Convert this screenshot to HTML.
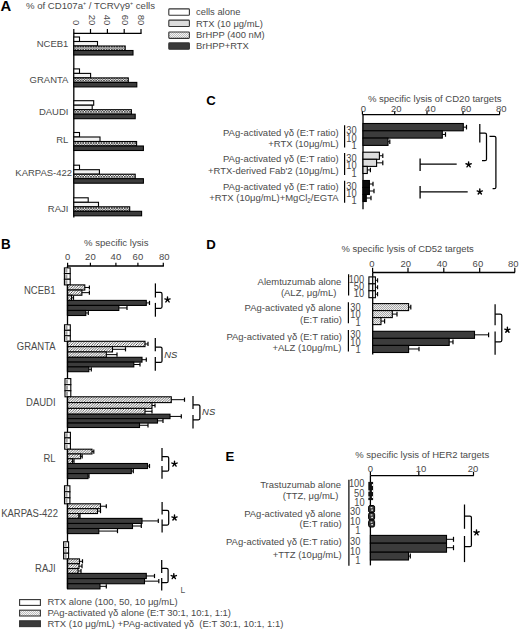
<!DOCTYPE html>
<html><head><meta charset="utf-8"><title>Figure</title>
<style>
html,body{margin:0;padding:0;background:#fff;}
body{width:520px;height:632px;overflow:hidden;}
svg{display:block;font-family:"Liberation Sans", sans-serif;}
</style></head><body>
<svg width="520" height="632" viewBox="0 0 520 632">
<defs>
<pattern id="xh" width="2.6" height="2.6" patternUnits="userSpaceOnUse">
<rect width="2.6" height="2.6" fill="#fafafa"/>
<path d="M0 0L2.6 2.6M2.6 0L0 2.6" stroke="#333" stroke-width="0.75"/>
</pattern>
<pattern id="dg" width="2.6" height="2.6" patternUnits="userSpaceOnUse">
<rect width="2.6" height="2.6" fill="#ffffff"/>
<path d="M-0.65 0.65L0.65 -0.65M0 2.6L2.6 0M1.95 3.25L3.25 1.95" stroke="#3a3a3a" stroke-width="0.8"/>
</pattern>
<pattern id="lx2" width="2" height="2" patternUnits="userSpaceOnUse">
<rect width="2" height="2" fill="#f4f4f4"/>
<rect width="1" height="1" fill="#bdbdbd"/>
<rect x="1" y="1" width="1" height="1" fill="#bdbdbd"/>
</pattern>
<pattern id="lx" width="2" height="2" patternUnits="userSpaceOnUse">
<rect width="2" height="2" fill="#eeeeee"/>
<rect width="1" height="1" fill="#a8a8a8"/>
<rect x="1" y="1" width="1" height="1" fill="#a8a8a8"/>
</pattern>
</defs>
<rect width="520" height="632" fill="#fff"/>

<text x="0.4" y="10.8" font-size="14.8" text-anchor="start" font-weight="bold" font-style="normal" fill="#000">A</text>
<text transform="translate(26.0 8.6) scale(0.965 1)" font-size="9.95" fill="#4a4a4a">% of CD107a<tspan font-size="5.5" dy="-3.4">+</tspan><tspan dy="3.4"> / TCRV&#947;9</tspan><tspan font-size="5.5" dy="-3.4">+</tspan><tspan dy="3.4"> cells</tspan></text>
<line x1="73.8" y1="33.3" x2="141.6" y2="33.3" stroke="#000" stroke-width="1.3"/>
<line x1="73.8" y1="32.7" x2="73.8" y2="217.6" stroke="#000" stroke-width="1.3"/>
<line x1="73.8" y1="29" x2="73.8" y2="33.3" stroke="#000" stroke-width="1.2"/>
<text transform="translate(73.2 25.4) rotate(90)" font-size="9.5" text-anchor="end" fill="#4a4a4a">0</text>
<line x1="90.5" y1="29" x2="90.5" y2="33.3" stroke="#000" stroke-width="1.2"/>
<text transform="translate(88.8 25.4) rotate(90)" font-size="9.5" text-anchor="end" fill="#4a4a4a">20</text>
<line x1="107.4" y1="29" x2="107.4" y2="33.3" stroke="#000" stroke-width="1.2"/>
<text transform="translate(104.4 25.4) rotate(90)" font-size="9.5" text-anchor="end" fill="#4a4a4a">40</text>
<line x1="124.2" y1="29" x2="124.2" y2="33.3" stroke="#000" stroke-width="1.2"/>
<text transform="translate(122.2 25.4) rotate(90)" font-size="9.5" text-anchor="end" fill="#4a4a4a">60</text>
<line x1="141" y1="29" x2="141" y2="33.3" stroke="#000" stroke-width="1.2"/>
<text transform="translate(137.6 25.4) rotate(90)" font-size="9.5" text-anchor="end" fill="#4a4a4a">80</text>
<rect x="73.8" y="37" width="5.7" height="4.5" fill="#ffffff" stroke="#000" stroke-width="1.1"/>
<rect x="73.8" y="41.5" width="23.7" height="4.5" fill="#f2f2f2" stroke="#000" stroke-width="1.1"/>
<rect x="73.8" y="46" width="51.4" height="4.5" fill="url(#xh)" stroke="#000" stroke-width="1.1"/>
<rect x="73.8" y="50.5" width="59.2" height="4.5" fill="#3c3c3c" stroke="#000" stroke-width="1.1"/>
<text transform="translate(68.4 46.9) scale(0.9709 1)" font-size="9.79" text-anchor="end" font-style="normal" fill="#4a4a4a">NCEB1</text>
<rect x="73.8" y="68.9" width="5.7" height="4.5" fill="#ffffff" stroke="#000" stroke-width="1.1"/>
<rect x="73.8" y="73.4" width="16.8" height="4.5" fill="#f2f2f2" stroke="#000" stroke-width="1.1"/>
<rect x="73.8" y="77.9" width="54.5" height="4.5" fill="url(#xh)" stroke="#000" stroke-width="1.1"/>
<rect x="73.8" y="82.4" width="63" height="4.5" fill="#3c3c3c" stroke="#000" stroke-width="1.1"/>
<text transform="translate(68.4 82.8) scale(0.9709 1)" font-size="9.79" text-anchor="end" font-style="normal" fill="#4a4a4a">GRANTA</text>
<rect x="73.8" y="100.7" width="19.9" height="4.5" fill="#ffffff" stroke="#000" stroke-width="1.1"/>
<rect x="73.8" y="105.2" width="18.4" height="4.5" fill="#f2f2f2" stroke="#000" stroke-width="1.1"/>
<rect x="73.8" y="109.7" width="57.6" height="4.5" fill="url(#xh)" stroke="#000" stroke-width="1.1"/>
<rect x="73.8" y="114.2" width="61.4" height="4.5" fill="#3c3c3c" stroke="#000" stroke-width="1.1"/>
<text transform="translate(68.4 115.2) scale(0.9709 1)" font-size="9.79" text-anchor="end" font-style="normal" fill="#4a4a4a">DAUDI</text>
<rect x="73.8" y="132.5" width="5.7" height="4.5" fill="#ffffff" stroke="#000" stroke-width="1.1"/>
<rect x="73.8" y="137" width="26.2" height="4.5" fill="#f2f2f2" stroke="#000" stroke-width="1.1"/>
<rect x="73.8" y="141.5" width="62.8" height="4.5" fill="url(#xh)" stroke="#000" stroke-width="1.1"/>
<rect x="73.8" y="146" width="69.6" height="4.5" fill="#3c3c3c" stroke="#000" stroke-width="1.1"/>
<text transform="translate(68.4 142.7) scale(0.9709 1)" font-size="9.79" text-anchor="end" font-style="normal" fill="#4a4a4a">RL</text>
<rect x="73.8" y="165.2" width="5.7" height="4.5" fill="#ffffff" stroke="#000" stroke-width="1.1"/>
<rect x="73.8" y="169.7" width="25.6" height="4.5" fill="#f2f2f2" stroke="#000" stroke-width="1.1"/>
<rect x="73.8" y="174.2" width="61.4" height="4.5" fill="url(#xh)" stroke="#000" stroke-width="1.1"/>
<rect x="73.8" y="178.7" width="69.6" height="4.5" fill="#3c3c3c" stroke="#000" stroke-width="1.1"/>
<text transform="translate(72.1 176.3) scale(0.9709 1)" font-size="9.79" text-anchor="end" font-style="normal" fill="#4a4a4a">KARPAS-422</text>
<rect x="73.8" y="197.8" width="14.4" height="4.5" fill="#ffffff" stroke="#000" stroke-width="1.1"/>
<rect x="73.8" y="202.3" width="24.7" height="4.5" fill="#f2f2f2" stroke="#000" stroke-width="1.1"/>
<rect x="73.8" y="206.8" width="55.9" height="4.5" fill="url(#xh)" stroke="#000" stroke-width="1.1"/>
<rect x="73.8" y="211.3" width="67.8" height="4.5" fill="#3c3c3c" stroke="#000" stroke-width="1.1"/>
<text transform="translate(68.4 212.4) scale(0.9709 1)" font-size="9.79" text-anchor="end" font-style="normal" fill="#4a4a4a">RAJI</text>
<rect x="168.8" y="8.9" width="20.6" height="6.4" rx="0.8" fill="#ffffff" stroke="#333" stroke-width="1.1"/>
<text transform="translate(196 15.1) scale(0.9709 1)" font-size="9.68" text-anchor="start" font-style="normal" fill="#4a4a4a">cells alone</text>
<rect x="168.8" y="20.1" width="20.6" height="6.4" rx="0.8" fill="#dcdcdc" stroke="#333" stroke-width="1.1"/>
<text transform="translate(196 26.5) scale(0.9709 1)" font-size="9.68" text-anchor="start" font-style="normal" fill="#4a4a4a">RTX (10 &#956;g/mL)</text>
<rect x="168.8" y="32" width="20.6" height="6.4" rx="0.8" fill="url(#lx2)" stroke="#333" stroke-width="1.1"/>
<text transform="translate(196 37.9) scale(0.9709 1)" font-size="9.68" text-anchor="start" font-style="normal" fill="#4a4a4a">BrHPP (400 nM)</text>
<rect x="168.8" y="42.9" width="20.6" height="6.4" rx="0.8" fill="#3a3a3a" stroke="#333" stroke-width="1.1"/>
<text transform="translate(196 49.3) scale(0.9709 1)" font-size="9.68" text-anchor="start" font-style="normal" fill="#4a4a4a">BrHPP+RTX</text>
<text transform="translate(1.0 249.0) scale(0.93 1)" font-size="14.4" font-weight="bold" fill="#000">B</text>
<text transform="translate(84 246.2) scale(0.9709 1)" font-size="9.89" text-anchor="start" font-style="normal" fill="#4a4a4a">% specific lysis</text>
<line x1="67.5" y1="266" x2="163.9" y2="266" stroke="#000" stroke-width="1.3"/>
<line x1="67.6" y1="262.8" x2="67.6" y2="266" stroke="#000" stroke-width="1.2"/>
<text transform="translate(67.6 260.4) scale(0.9709 1)" font-size="9.79" text-anchor="middle" font-style="normal" fill="#4a4a4a">0</text>
<line x1="90.4" y1="262.8" x2="90.4" y2="266" stroke="#000" stroke-width="1.2"/>
<text transform="translate(90.4 260.4) scale(0.9709 1)" font-size="9.79" text-anchor="middle" font-style="normal" fill="#4a4a4a">20</text>
<line x1="115.9" y1="262.8" x2="115.9" y2="266" stroke="#000" stroke-width="1.2"/>
<text transform="translate(115.9 260.4) scale(0.9709 1)" font-size="9.79" text-anchor="middle" font-style="normal" fill="#4a4a4a">40</text>
<line x1="137.9" y1="262.8" x2="137.9" y2="266" stroke="#000" stroke-width="1.2"/>
<text transform="translate(137.9 260.4) scale(0.9709 1)" font-size="9.79" text-anchor="middle" font-style="normal" fill="#4a4a4a">60</text>
<line x1="163.3" y1="262.8" x2="163.3" y2="266" stroke="#000" stroke-width="1.2"/>
<text transform="translate(164.2 260.4) scale(0.9709 1)" font-size="9.79" text-anchor="middle" font-style="normal" fill="#4a4a4a">80</text>
<line x1="67.5" y1="266" x2="67.5" y2="588.6" stroke="#000" stroke-width="1.3"/>
<rect x="64.4" y="267.9" width="5.8" height="5.67" fill="#fff" stroke="#000" stroke-width="1.1"/>
<rect x="65.2" y="268.9" width="2.2" height="3.67" fill="#a0a0a0"/>
<rect x="64.4" y="273.57" width="5.8" height="5.67" fill="#fff" stroke="#000" stroke-width="1.1"/>
<rect x="65.2" y="274.57" width="2.2" height="3.67" fill="#a0a0a0"/>
<rect x="64.4" y="279.23" width="5.8" height="5.67" fill="#fff" stroke="#000" stroke-width="1.1"/>
<rect x="65.2" y="280.23" width="2.2" height="3.67" fill="#a0a0a0"/>
<rect x="67.5" y="284.9" width="17.3" height="5.17" fill="url(#dg)" stroke="#000" stroke-width="1.1"/>
<line x1="84.8" y1="287.48" x2="89.4" y2="287.48" stroke="#000" stroke-width="1"/>
<line x1="89.4" y1="285.38" x2="89.4" y2="289.58" stroke="#000" stroke-width="1.2"/>
<rect x="67.5" y="290.07" width="14.4" height="5.17" fill="url(#dg)" stroke="#000" stroke-width="1.1"/>
<line x1="81.9" y1="292.65" x2="89.4" y2="292.65" stroke="#000" stroke-width="1"/>
<line x1="89.4" y1="290.55" x2="89.4" y2="294.75" stroke="#000" stroke-width="1.2"/>
<rect x="67.5" y="295.23" width="4" height="5.17" fill="url(#dg)" stroke="#000" stroke-width="1.1"/>
<line x1="71.5" y1="297.82" x2="73.5" y2="297.82" stroke="#000" stroke-width="1"/>
<line x1="73.5" y1="295.72" x2="73.5" y2="299.92" stroke="#000" stroke-width="1.2"/>
<rect x="67.5" y="300.4" width="78.8" height="5.03" fill="#3c3c3c" stroke="#000" stroke-width="1.1"/>
<line x1="146.3" y1="302.92" x2="149.5" y2="302.92" stroke="#000" stroke-width="1"/>
<line x1="149.5" y1="300.82" x2="149.5" y2="305.02" stroke="#000" stroke-width="1.2"/>
<rect x="67.5" y="305.43" width="51.3" height="5.03" fill="#3c3c3c" stroke="#000" stroke-width="1.1"/>
<line x1="118.8" y1="307.95" x2="127" y2="307.95" stroke="#000" stroke-width="1"/>
<line x1="127" y1="305.85" x2="127" y2="310.05" stroke="#000" stroke-width="1.2"/>
<rect x="67.5" y="310.47" width="18.3" height="5.03" fill="#3c3c3c" stroke="#000" stroke-width="1.1"/>
<line x1="85.8" y1="312.98" x2="88.3" y2="312.98" stroke="#000" stroke-width="1"/>
<line x1="88.3" y1="310.88" x2="88.3" y2="315.08" stroke="#000" stroke-width="1.2"/>
<line x1="67.5" y1="284.9" x2="67.5" y2="315.5" stroke="#000" stroke-width="1.3"/>
<text transform="translate(55.6 294) scale(0.9091 1)" font-size="10.45" text-anchor="end" font-style="normal" fill="#4a4a4a">NCEB1</text>
<line x1="155.4" y1="283.4" x2="155.4" y2="297.5" stroke="#000" stroke-width="1.25"/>
<line x1="155.4" y1="302.9" x2="155.4" y2="316.7" stroke="#000" stroke-width="1.25"/>
<path d="M155.4 292.4 H160.5 Q162 292.4 162 293.9 V306.8 Q162 308.3 160.5 308.3 H155.4" fill="none" stroke="#000" stroke-width="1.25"/>
<path d="M167.5 299.7L167.5 296.95M167.5 299.7L170.12 298.85M167.5 299.7L169.12 301.92M167.5 299.7L165.88 301.92M167.5 299.7L164.88 298.85" stroke="#000" stroke-width="1.4" stroke-linecap="round" fill="none"/>
<rect x="64.5" y="324.8" width="5.8" height="5.5" fill="#fff" stroke="#000" stroke-width="1.1"/>
<rect x="65.3" y="325.8" width="2.2" height="3.5" fill="#a0a0a0"/>
<rect x="64.5" y="330.3" width="5.8" height="5.5" fill="#fff" stroke="#000" stroke-width="1.1"/>
<rect x="65.3" y="331.3" width="2.2" height="3.5" fill="#a0a0a0"/>
<rect x="64.5" y="335.8" width="5.8" height="5.5" fill="#fff" stroke="#000" stroke-width="1.1"/>
<rect x="65.3" y="336.8" width="2.2" height="3.5" fill="#a0a0a0"/>
<rect x="67.5" y="341.3" width="77.5" height="5.33" fill="url(#dg)" stroke="#000" stroke-width="1.1"/>
<line x1="145" y1="343.97" x2="148" y2="343.97" stroke="#000" stroke-width="1"/>
<line x1="148" y1="341.87" x2="148" y2="346.07" stroke="#000" stroke-width="1.2"/>
<rect x="67.5" y="346.63" width="45" height="5.33" fill="url(#dg)" stroke="#000" stroke-width="1.1"/>
<line x1="112.5" y1="349.3" x2="125.5" y2="349.3" stroke="#000" stroke-width="1"/>
<line x1="125.5" y1="347.2" x2="125.5" y2="351.4" stroke="#000" stroke-width="1.2"/>
<rect x="67.5" y="351.97" width="38.8" height="5.33" fill="url(#dg)" stroke="#000" stroke-width="1.1"/>
<line x1="106.3" y1="354.63" x2="117" y2="354.63" stroke="#000" stroke-width="1"/>
<line x1="117" y1="352.53" x2="117" y2="356.73" stroke="#000" stroke-width="1.2"/>
<rect x="67.5" y="357.3" width="74.5" height="4.8" fill="#3c3c3c" stroke="#000" stroke-width="1.1"/>
<line x1="142" y1="359.7" x2="146.3" y2="359.7" stroke="#000" stroke-width="1"/>
<line x1="146.3" y1="357.6" x2="146.3" y2="361.8" stroke="#000" stroke-width="1.2"/>
<rect x="67.5" y="362.1" width="66.3" height="4.8" fill="#3c3c3c" stroke="#000" stroke-width="1.1"/>
<line x1="133.8" y1="364.5" x2="140" y2="364.5" stroke="#000" stroke-width="1"/>
<line x1="140" y1="362.4" x2="140" y2="366.6" stroke="#000" stroke-width="1.2"/>
<rect x="67.5" y="366.9" width="21.3" height="4.8" fill="#3c3c3c" stroke="#000" stroke-width="1.1"/>
<line x1="88.8" y1="369.3" x2="91.3" y2="369.3" stroke="#000" stroke-width="1"/>
<line x1="91.3" y1="367.2" x2="91.3" y2="371.4" stroke="#000" stroke-width="1.2"/>
<line x1="67.5" y1="341.3" x2="67.5" y2="371.7" stroke="#000" stroke-width="1.3"/>
<text transform="translate(55.6 350) scale(0.9091 1)" font-size="10.45" text-anchor="end" font-style="normal" fill="#4a4a4a">GRANTA</text>
<line x1="155.3" y1="337.9" x2="155.3" y2="351.3" stroke="#000" stroke-width="1.25"/>
<line x1="155.3" y1="356.9" x2="155.3" y2="370.7" stroke="#000" stroke-width="1.25"/>
<path d="M155.3 347 H160.5 Q162 347 162 348.5 V360.9 Q162 362.4 160.5 362.4 H155.3" fill="none" stroke="#000" stroke-width="1.25"/>
<text transform="translate(164.2 358) scale(0.9709 1)" font-size="9.68" text-anchor="start" font-style="italic" fill="#333">NS</text>
<rect x="65" y="378.6" width="5.8" height="6.07" fill="#fff" stroke="#000" stroke-width="1.1"/>
<rect x="65.8" y="379.6" width="2.2" height="4.07" fill="#a0a0a0"/>
<rect x="65" y="384.67" width="5.8" height="6.07" fill="#fff" stroke="#000" stroke-width="1.1"/>
<rect x="65.8" y="385.67" width="2.2" height="4.07" fill="#a0a0a0"/>
<rect x="65" y="390.73" width="5.8" height="6.07" fill="#fff" stroke="#000" stroke-width="1.1"/>
<rect x="65.8" y="391.73" width="2.2" height="4.07" fill="#a0a0a0"/>
<rect x="67.5" y="396.8" width="103.8" height="5.8" fill="url(#dg)" stroke="#000" stroke-width="1.1"/>
<line x1="171.3" y1="399.7" x2="184.5" y2="399.7" stroke="#000" stroke-width="1"/>
<line x1="184.5" y1="397.6" x2="184.5" y2="401.8" stroke="#000" stroke-width="1.2"/>
<rect x="67.5" y="402.6" width="84.5" height="5.8" fill="url(#dg)" stroke="#000" stroke-width="1.1"/>
<line x1="152" y1="405.5" x2="155" y2="405.5" stroke="#000" stroke-width="1"/>
<line x1="155" y1="403.4" x2="155" y2="407.6" stroke="#000" stroke-width="1.2"/>
<rect x="67.5" y="408.4" width="77.5" height="5.8" fill="url(#dg)" stroke="#000" stroke-width="1.1"/>
<line x1="145" y1="411.3" x2="152" y2="411.3" stroke="#000" stroke-width="1"/>
<line x1="152" y1="409.2" x2="152" y2="413.4" stroke="#000" stroke-width="1.2"/>
<rect x="67.5" y="414.2" width="102.5" height="4.43" fill="#3c3c3c" stroke="#000" stroke-width="1.1"/>
<line x1="170" y1="416.42" x2="181.3" y2="416.42" stroke="#000" stroke-width="1"/>
<line x1="181.3" y1="414.32" x2="181.3" y2="418.52" stroke="#000" stroke-width="1.2"/>
<rect x="67.5" y="418.63" width="90" height="4.43" fill="#3c3c3c" stroke="#000" stroke-width="1.1"/>
<line x1="157.5" y1="420.85" x2="163" y2="420.85" stroke="#000" stroke-width="1"/>
<line x1="163" y1="418.75" x2="163" y2="422.95" stroke="#000" stroke-width="1.2"/>
<rect x="67.5" y="423.07" width="72" height="4.43" fill="#3c3c3c" stroke="#000" stroke-width="1.1"/>
<line x1="139.5" y1="425.28" x2="148" y2="425.28" stroke="#000" stroke-width="1"/>
<line x1="148" y1="423.18" x2="148" y2="427.38" stroke="#000" stroke-width="1.2"/>
<line x1="67.5" y1="396.8" x2="67.5" y2="427.5" stroke="#000" stroke-width="1.3"/>
<text transform="translate(55.6 405.8) scale(0.9091 1)" font-size="10.45" text-anchor="end" font-style="normal" fill="#4a4a4a">DAUDI</text>
<line x1="193" y1="396.1" x2="193" y2="409.1" stroke="#000" stroke-width="1.25"/>
<line x1="193" y1="415" x2="193" y2="428.5" stroke="#000" stroke-width="1.25"/>
<path d="M193 404.8 H198.4 Q199.9 404.8 199.9 406.3 V418.3 Q199.9 419.8 198.4 419.8 H193" fill="none" stroke="#000" stroke-width="1.25"/>
<text transform="translate(202.1 415) scale(0.9709 1)" font-size="9.68" text-anchor="start" font-style="italic" fill="#333">NS</text>
<rect x="64.7" y="432.3" width="5.7" height="5.63" fill="#fff" stroke="#000" stroke-width="1.1"/>
<rect x="65.5" y="433.3" width="2.2" height="3.63" fill="#a0a0a0"/>
<rect x="64.7" y="437.93" width="5.7" height="5.63" fill="#fff" stroke="#000" stroke-width="1.1"/>
<rect x="65.5" y="438.93" width="2.2" height="3.63" fill="#a0a0a0"/>
<rect x="64.7" y="443.57" width="5.7" height="5.63" fill="#fff" stroke="#000" stroke-width="1.1"/>
<rect x="65.5" y="444.57" width="2.2" height="3.63" fill="#a0a0a0"/>
<rect x="67.5" y="449.2" width="24.5" height="4.77" fill="url(#dg)" stroke="#000" stroke-width="1.1"/>
<line x1="92" y1="451.58" x2="93.8" y2="451.58" stroke="#000" stroke-width="1"/>
<line x1="93.8" y1="449.48" x2="93.8" y2="453.68" stroke="#000" stroke-width="1.2"/>
<rect x="67.5" y="453.97" width="13.1" height="4.77" fill="url(#dg)" stroke="#000" stroke-width="1.1"/>
<line x1="80.6" y1="456.35" x2="82.2" y2="456.35" stroke="#000" stroke-width="1"/>
<line x1="82.2" y1="454.25" x2="82.2" y2="458.45" stroke="#000" stroke-width="1.2"/>
<rect x="67.5" y="458.73" width="4.9" height="4.77" fill="url(#dg)" stroke="#000" stroke-width="1.1"/>
<line x1="72.4" y1="461.12" x2="74" y2="461.12" stroke="#000" stroke-width="1"/>
<line x1="74" y1="459.02" x2="74" y2="463.22" stroke="#000" stroke-width="1.2"/>
<rect x="67.5" y="463.5" width="80" height="5.03" fill="#3c3c3c" stroke="#000" stroke-width="1.1"/>
<line x1="147.5" y1="466.02" x2="149.5" y2="466.02" stroke="#000" stroke-width="1"/>
<line x1="149.5" y1="463.92" x2="149.5" y2="468.12" stroke="#000" stroke-width="1.2"/>
<rect x="67.5" y="468.53" width="63.8" height="5.03" fill="#3c3c3c" stroke="#000" stroke-width="1.1"/>
<line x1="131.3" y1="471.05" x2="133.3" y2="471.05" stroke="#000" stroke-width="1"/>
<line x1="133.3" y1="468.95" x2="133.3" y2="473.15" stroke="#000" stroke-width="1.2"/>
<rect x="67.5" y="473.57" width="20.5" height="5.03" fill="#3c3c3c" stroke="#000" stroke-width="1.1"/>
<line x1="88" y1="476.08" x2="89" y2="476.08" stroke="#000" stroke-width="1"/>
<line x1="89" y1="473.98" x2="89" y2="478.18" stroke="#000" stroke-width="1.2"/>
<line x1="67.5" y1="449.2" x2="67.5" y2="478.6" stroke="#000" stroke-width="1.3"/>
<text transform="translate(55.6 461.8) scale(0.9091 1)" font-size="10.45" text-anchor="end" font-style="normal" fill="#4a4a4a">RL</text>
<line x1="162" y1="447.9" x2="162" y2="460.9" stroke="#000" stroke-width="1.25"/>
<line x1="162" y1="466.1" x2="162" y2="478.7" stroke="#000" stroke-width="1.25"/>
<path d="M162 456.6 H167.2 Q168.7 456.6 168.7 458.1 V469.7 Q168.7 471.2 167.2 471.2 H162" fill="none" stroke="#000" stroke-width="1.25"/>
<path d="M174.5 463.9L174.5 461.15M174.5 463.9L177.12 463.05M174.5 463.9L176.12 466.12M174.5 463.9L172.88 466.12M174.5 463.9L171.88 463.05" stroke="#000" stroke-width="1.4" stroke-linecap="round" fill="none"/>
<rect x="64.5" y="485.8" width="5.4" height="6" fill="#fff" stroke="#000" stroke-width="1.1"/>
<rect x="65.3" y="486.8" width="2.2" height="4" fill="#a0a0a0"/>
<rect x="64.5" y="491.8" width="5.4" height="6" fill="#fff" stroke="#000" stroke-width="1.1"/>
<rect x="65.3" y="492.8" width="2.2" height="4" fill="#a0a0a0"/>
<rect x="64.5" y="497.8" width="5.4" height="6" fill="#fff" stroke="#000" stroke-width="1.1"/>
<rect x="65.3" y="498.8" width="2.2" height="4" fill="#a0a0a0"/>
<rect x="67.5" y="503.8" width="33" height="4.87" fill="url(#dg)" stroke="#000" stroke-width="1.1"/>
<line x1="100.5" y1="506.23" x2="106.3" y2="506.23" stroke="#000" stroke-width="1"/>
<line x1="106.3" y1="504.13" x2="106.3" y2="508.33" stroke="#000" stroke-width="1.2"/>
<rect x="67.5" y="508.67" width="30" height="4.87" fill="url(#dg)" stroke="#000" stroke-width="1.1"/>
<line x1="97.5" y1="511.1" x2="100.5" y2="511.1" stroke="#000" stroke-width="1"/>
<line x1="100.5" y1="509" x2="100.5" y2="513.2" stroke="#000" stroke-width="1.2"/>
<rect x="67.5" y="513.53" width="11.3" height="4.87" fill="url(#dg)" stroke="#000" stroke-width="1.1"/>
<line x1="78.8" y1="515.97" x2="80" y2="515.97" stroke="#000" stroke-width="1"/>
<line x1="80" y1="513.87" x2="80" y2="518.07" stroke="#000" stroke-width="1.2"/>
<rect x="67.5" y="518.4" width="74.5" height="5.07" fill="#3c3c3c" stroke="#000" stroke-width="1.1"/>
<line x1="142" y1="520.93" x2="158.3" y2="520.93" stroke="#000" stroke-width="1"/>
<line x1="158.3" y1="518.83" x2="158.3" y2="523.03" stroke="#000" stroke-width="1.2"/>
<rect x="67.5" y="523.47" width="65" height="5.07" fill="#3c3c3c" stroke="#000" stroke-width="1.1"/>
<line x1="132.5" y1="526" x2="141.3" y2="526" stroke="#000" stroke-width="1"/>
<line x1="141.3" y1="523.9" x2="141.3" y2="528.1" stroke="#000" stroke-width="1.2"/>
<rect x="67.5" y="528.53" width="31.3" height="5.07" fill="#3c3c3c" stroke="#000" stroke-width="1.1"/>
<line x1="98.8" y1="531.07" x2="117.5" y2="531.07" stroke="#000" stroke-width="1"/>
<line x1="117.5" y1="528.97" x2="117.5" y2="533.17" stroke="#000" stroke-width="1.2"/>
<line x1="67.5" y1="503.8" x2="67.5" y2="533.6" stroke="#000" stroke-width="1.3"/>
<text transform="translate(57.9 516.6) scale(0.9091 1)" font-size="10.45" text-anchor="end" font-style="normal" fill="#4a4a4a">KARPAS-422</text>
<line x1="162.1" y1="502.1" x2="162.1" y2="514.4" stroke="#000" stroke-width="1.25"/>
<line x1="162.1" y1="519.5" x2="162.1" y2="532.5" stroke="#000" stroke-width="1.25"/>
<path d="M162.1 510.4 H167.2 Q168.7 510.4 168.7 511.9 V523.5 Q168.7 525 167.2 525 H162.1" fill="none" stroke="#000" stroke-width="1.25"/>
<path d="M174.5 517.8L174.5 515.05M174.5 517.8L177.12 516.95M174.5 517.8L176.12 520.02M174.5 517.8L172.88 520.02M174.5 517.8L171.88 516.95" stroke="#000" stroke-width="1.4" stroke-linecap="round" fill="none"/>
<rect x="63.6" y="541.8" width="5" height="5.7" fill="#fff" stroke="#000" stroke-width="1.1"/>
<rect x="64.4" y="542.8" width="2.2" height="3.7" fill="#a0a0a0"/>
<rect x="63.6" y="547.5" width="5" height="5.7" fill="#fff" stroke="#000" stroke-width="1.1"/>
<rect x="64.4" y="548.5" width="2.2" height="3.7" fill="#a0a0a0"/>
<rect x="63.6" y="553.2" width="5" height="5.7" fill="#fff" stroke="#000" stroke-width="1.1"/>
<rect x="64.4" y="554.2" width="2.2" height="3.7" fill="#a0a0a0"/>
<rect x="67.5" y="558.9" width="12" height="4.83" fill="url(#dg)" stroke="#000" stroke-width="1.1"/>
<line x1="79.5" y1="561.32" x2="82.5" y2="561.32" stroke="#000" stroke-width="1"/>
<line x1="82.5" y1="559.22" x2="82.5" y2="563.42" stroke="#000" stroke-width="1.2"/>
<rect x="67.5" y="563.73" width="11.5" height="4.83" fill="url(#dg)" stroke="#000" stroke-width="1.1"/>
<line x1="79" y1="566.15" x2="82" y2="566.15" stroke="#000" stroke-width="1"/>
<line x1="82" y1="564.05" x2="82" y2="568.25" stroke="#000" stroke-width="1.2"/>
<rect x="67.5" y="568.57" width="10.5" height="4.83" fill="url(#dg)" stroke="#000" stroke-width="1.1"/>
<line x1="78" y1="570.98" x2="81" y2="570.98" stroke="#000" stroke-width="1"/>
<line x1="81" y1="568.88" x2="81" y2="573.08" stroke="#000" stroke-width="1.2"/>
<rect x="67.5" y="573.4" width="78.8" height="5.17" fill="#3c3c3c" stroke="#000" stroke-width="1.1"/>
<line x1="146.3" y1="575.98" x2="154.5" y2="575.98" stroke="#000" stroke-width="1"/>
<line x1="154.5" y1="573.88" x2="154.5" y2="578.08" stroke="#000" stroke-width="1.2"/>
<rect x="67.5" y="578.57" width="77" height="5.17" fill="#3c3c3c" stroke="#000" stroke-width="1.1"/>
<line x1="144.5" y1="581.15" x2="158.8" y2="581.15" stroke="#000" stroke-width="1"/>
<line x1="158.8" y1="579.05" x2="158.8" y2="583.25" stroke="#000" stroke-width="1.2"/>
<rect x="67.5" y="583.73" width="32.5" height="5.17" fill="#3c3c3c" stroke="#000" stroke-width="1.1"/>
<line x1="100" y1="586.32" x2="106.3" y2="586.32" stroke="#000" stroke-width="1"/>
<line x1="106.3" y1="584.22" x2="106.3" y2="588.42" stroke="#000" stroke-width="1.2"/>
<line x1="67.5" y1="558.9" x2="67.5" y2="588.9" stroke="#000" stroke-width="1.3"/>
<text transform="translate(55.6 572) scale(0.9091 1)" font-size="10.45" text-anchor="end" font-style="normal" fill="#4a4a4a">RAJI</text>
<line x1="161.7" y1="560.1" x2="161.7" y2="573" stroke="#000" stroke-width="1.25"/>
<line x1="161.7" y1="577.9" x2="161.7" y2="590.4" stroke="#000" stroke-width="1.25"/>
<path d="M161.7 568.3 H166.6 Q168.1 568.3 168.1 569.8 V581.2 Q168.1 582.7 166.6 582.7 H161.7" fill="none" stroke="#000" stroke-width="1.25"/>
<path d="M173.8 576.4L173.8 573.65M173.8 576.4L176.42 575.55M173.8 576.4L175.42 578.62M173.8 576.4L172.18 578.62M173.8 576.4L171.18 575.55" stroke="#000" stroke-width="1.4" stroke-linecap="round" fill="none"/>
<text transform="translate(180.6 593.3) scale(0.9709 1)" font-size="8.76" text-anchor="start" font-style="normal" fill="#555">L</text>
<rect x="19.6" y="599.6" width="20.8" height="5.8" fill="#fff" stroke="#333" stroke-width="1.1"/>
<text transform="translate(47.4 605) scale(0.9709 1)" font-size="9.79" text-anchor="start" font-style="normal" fill="#4a4a4a" xml:space="preserve">RTX alone (100, 50, 10 &#956;g/mL)</text>
<rect x="19.6" y="610.2" width="20.8" height="5.8" fill="url(#lx2)" stroke="#333" stroke-width="1.1"/>
<text transform="translate(47.4 615.9) scale(0.9709 1)" font-size="9.79" text-anchor="start" font-style="normal" fill="#4a4a4a" xml:space="preserve">PAg-activated &#947;&#948; alone (E:T 30:1, 10:1, 1:1)</text>
<rect x="19.6" y="620.8" width="20.8" height="5.8" fill="#3a3a3a" stroke="#333" stroke-width="1.1"/>
<text transform="translate(47.4 626.8) scale(0.9709 1)" font-size="9.79" text-anchor="start" font-style="normal" fill="#4a4a4a" xml:space="preserve">RTX (10 &#956;g/mL) +PAg-activated &#947;&#948;  (E:T 30:1, 10:1, 1:1)</text>
<text x="206.2" y="105.2" font-size="13.2" text-anchor="start" font-weight="bold" font-style="normal" fill="#000">C</text>
<text transform="translate(367.9 101.7) scale(0.9709 1)" font-size="9.84" text-anchor="start" font-style="normal" fill="#4a4a4a">% specific lysis of CD20 targets</text>
<line x1="362.4" y1="114.6" x2="499.8" y2="114.6" stroke="#000" stroke-width="1.3"/>
<line x1="362.4" y1="111" x2="362.4" y2="114.6" stroke="#000" stroke-width="1.2"/>
<text transform="translate(363.5 111.5) scale(0.9709 1)" font-size="9.79" text-anchor="middle" font-style="normal" fill="#4a4a4a">0</text>
<line x1="394.7" y1="111" x2="394.7" y2="114.6" stroke="#000" stroke-width="1.2"/>
<text transform="translate(396.3 111.5) scale(0.9709 1)" font-size="9.79" text-anchor="middle" font-style="normal" fill="#4a4a4a">20</text>
<line x1="427" y1="111" x2="427" y2="114.6" stroke="#000" stroke-width="1.2"/>
<text transform="translate(430.4 111.5) scale(0.9709 1)" font-size="9.79" text-anchor="middle" font-style="normal" fill="#4a4a4a">40</text>
<line x1="463" y1="111" x2="463" y2="114.6" stroke="#000" stroke-width="1.2"/>
<text transform="translate(466.1 111.5) scale(0.9709 1)" font-size="9.79" text-anchor="middle" font-style="normal" fill="#4a4a4a">60</text>
<line x1="499.6" y1="111" x2="499.6" y2="114.6" stroke="#000" stroke-width="1.2"/>
<text transform="translate(501.3 111.5) scale(0.9709 1)" font-size="9.79" text-anchor="middle" font-style="normal" fill="#4a4a4a">80</text>
<line x1="363" y1="114.6" x2="363" y2="209.3" stroke="#000" stroke-width="1.3"/>
<rect x="363" y="123.5" width="100.3" height="7.3" fill="#3c3c3c" stroke="#000" stroke-width="1.1"/>
<line x1="463.3" y1="127.15" x2="466.5" y2="127.15" stroke="#000" stroke-width="1"/>
<line x1="466.5" y1="124.85" x2="466.5" y2="129.45" stroke="#000" stroke-width="1.2"/>
<rect x="363" y="130.8" width="79.3" height="7.3" fill="#3c3c3c" stroke="#000" stroke-width="1.1"/>
<line x1="442.3" y1="134.45" x2="445.5" y2="134.45" stroke="#000" stroke-width="1"/>
<line x1="445.5" y1="132.15" x2="445.5" y2="136.75" stroke="#000" stroke-width="1.2"/>
<rect x="363" y="138.1" width="25" height="7.3" fill="#3c3c3c" stroke="#000" stroke-width="1.1"/>
<line x1="388" y1="141.75" x2="389.8" y2="141.75" stroke="#000" stroke-width="1"/>
<line x1="389.8" y1="139.45" x2="389.8" y2="144.05" stroke="#000" stroke-width="1.2"/>
<text transform="translate(338.6 135.6) scale(0.9709 1)" font-size="9.79" text-anchor="end" font-style="normal" fill="#4a4a4a">PAg-activated &#947;&#948; (E:T ratio)</text>
<text transform="translate(338.6 147.2) scale(0.9709 1)" font-size="9.79" text-anchor="end" font-style="normal" fill="#4a4a4a">+RTX (10&#956;g/mL)</text>
<line x1="344.6" y1="125.3" x2="344.6" y2="147.4" stroke="#000" stroke-width="1.2"/>
<text transform="translate(356.6 134.2) scale(0.8547 1)" font-size="10.88" text-anchor="end" font-style="normal" fill="#4a4a4a">30</text>
<text transform="translate(356.6 141.55) scale(0.8547 1)" font-size="10.88" text-anchor="end" font-style="normal" fill="#4a4a4a">10</text>
<text transform="translate(356.6 148.9) scale(0.8547 1)" font-size="10.88" text-anchor="end" font-style="normal" fill="#4a4a4a">1</text>
<rect x="363" y="152.2" width="16.4" height="7.1" fill="#dedede" stroke="#000" stroke-width="1.1"/>
<line x1="379.4" y1="155.75" x2="382.8" y2="155.75" stroke="#000" stroke-width="1"/>
<line x1="382.8" y1="153.45" x2="382.8" y2="158.05" stroke="#000" stroke-width="1.2"/>
<rect x="363" y="159.3" width="13.6" height="7.1" fill="#dedede" stroke="#000" stroke-width="1.1"/>
<line x1="376.6" y1="162.85" x2="382.8" y2="162.85" stroke="#000" stroke-width="1"/>
<line x1="382.8" y1="160.55" x2="382.8" y2="165.15" stroke="#000" stroke-width="1.2"/>
<rect x="363" y="166.4" width="4.3" height="7.1" fill="#dedede" stroke="#000" stroke-width="1.1"/>
<line x1="367.3" y1="169.95" x2="370.4" y2="169.95" stroke="#000" stroke-width="1"/>
<line x1="370.4" y1="167.65" x2="370.4" y2="172.25" stroke="#000" stroke-width="1.2"/>
<text transform="translate(338.6 162) scale(0.9709 1)" font-size="9.79" text-anchor="end" font-style="normal" fill="#4a4a4a">PAg-activated &#947;&#948; (E:T ratio)</text>
<text transform="translate(338.6 173.6) scale(0.9709 1)" font-size="9.79" text-anchor="end" font-style="normal" fill="#4a4a4a">+RTX-derived Fab'2 (10&#956;g/mL)</text>
<line x1="344.6" y1="153" x2="344.6" y2="175.1" stroke="#000" stroke-width="1.2"/>
<text transform="translate(356.6 161.9) scale(0.8547 1)" font-size="10.88" text-anchor="end" font-style="normal" fill="#4a4a4a">30</text>
<text transform="translate(356.6 169.25) scale(0.8547 1)" font-size="10.88" text-anchor="end" font-style="normal" fill="#4a4a4a">10</text>
<text transform="translate(356.6 176.6) scale(0.8547 1)" font-size="10.88" text-anchor="end" font-style="normal" fill="#4a4a4a">1</text>
<rect x="363" y="180.5" width="6.4" height="7" fill="#0a0a0a" stroke="#000" stroke-width="1.1"/>
<line x1="369.4" y1="184" x2="373" y2="184" stroke="#000" stroke-width="1"/>
<line x1="373" y1="181.7" x2="373" y2="186.3" stroke="#000" stroke-width="1.2"/>
<rect x="363" y="187.5" width="6.4" height="7" fill="#0a0a0a" stroke="#000" stroke-width="1.1"/>
<line x1="369.4" y1="191" x2="374" y2="191" stroke="#000" stroke-width="1"/>
<line x1="374" y1="188.7" x2="374" y2="193.3" stroke="#000" stroke-width="1.2"/>
<rect x="363" y="194.5" width="3.3" height="7" fill="#0a0a0a" stroke="#000" stroke-width="1.1"/>
<line x1="366.3" y1="198" x2="371" y2="198" stroke="#000" stroke-width="1"/>
<line x1="371" y1="195.7" x2="371" y2="200.3" stroke="#000" stroke-width="1.2"/>
<text transform="translate(338.6 189.7) scale(0.9709 1)" font-size="9.79" text-anchor="end" font-style="normal" fill="#4a4a4a">PAg-activated &#947;&#948; (E:T ratio)</text>
<text transform="translate(338.6 201.3) scale(0.9709 1)" font-size="9.79" text-anchor="end" font-style="normal" fill="#4a4a4a">+RTX (10&#956;g/mL)+MgCl<tspan font-size="6.5" dy="2">2</tspan><tspan dy="-2">/EGTA</tspan></text>
<line x1="344.6" y1="180.7" x2="344.6" y2="202.8" stroke="#000" stroke-width="1.2"/>
<text transform="translate(356.6 189.6) scale(0.8547 1)" font-size="10.88" text-anchor="end" font-style="normal" fill="#4a4a4a">30</text>
<text transform="translate(356.6 196.95) scale(0.8547 1)" font-size="10.88" text-anchor="end" font-style="normal" fill="#4a4a4a">10</text>
<text transform="translate(356.6 204.3) scale(0.8547 1)" font-size="10.88" text-anchor="end" font-style="normal" fill="#4a4a4a">1</text>
<line x1="479.8" y1="124.1" x2="479.8" y2="142.4" stroke="#000" stroke-width="1.25"/>
<path d="M479.8 133.2 H485 Q486.5 133.2 486.5 134.7 V159.2 Q486.5 160.7 485 160.7 H482" fill="none" stroke="#000" stroke-width="1.25"/>
<path d="M489.5 136.3 H494.4 Q495.9 136.3 495.9 137.8 V187.2 Q495.9 188.7 494.4 188.7 H492.6" fill="none" stroke="#000" stroke-width="1.25"/>
<line x1="420.1" y1="158.4" x2="420.1" y2="171" stroke="#000" stroke-width="1.3"/>
<line x1="420.1" y1="164.2" x2="456.7" y2="164.2" stroke="#000" stroke-width="1.25"/>
<path d="M468.6 164.6L468.6 161.85M468.6 164.6L471.22 163.75M468.6 164.6L470.22 166.82M468.6 164.6L466.98 166.82M468.6 164.6L465.98 163.75" stroke="#000" stroke-width="1.4" stroke-linecap="round" fill="none"/>
<line x1="420.1" y1="185.9" x2="420.1" y2="198.6" stroke="#000" stroke-width="1.3"/>
<line x1="420.1" y1="191.8" x2="467.7" y2="191.8" stroke="#000" stroke-width="1.25"/>
<path d="M479.8 191.8L479.8 189.05M479.8 191.8L482.42 190.95M479.8 191.8L481.42 194.02M479.8 191.8L478.18 194.02M479.8 191.8L477.18 190.95" stroke="#000" stroke-width="1.4" stroke-linecap="round" fill="none"/>
<text x="206.2" y="249.3" font-size="13.2" text-anchor="start" font-weight="bold" font-style="normal" fill="#000">D</text>
<text transform="translate(341.6 251.6) scale(0.9709 1)" font-size="9.73" text-anchor="start" font-style="normal" fill="#4a4a4a">% specific lysis of CD52 targets</text>
<line x1="372.6" y1="272.5" x2="515" y2="272.5" stroke="#000" stroke-width="1.3"/>
<line x1="372.6" y1="267.8" x2="372.6" y2="272.5" stroke="#000" stroke-width="1.2"/>
<text transform="translate(372 266.5) scale(0.9709 1)" font-size="9.79" text-anchor="middle" font-style="normal" fill="#4a4a4a">0</text>
<line x1="408" y1="267.8" x2="408" y2="272.5" stroke="#000" stroke-width="1.2"/>
<text transform="translate(405.7 266.5) scale(0.9709 1)" font-size="9.79" text-anchor="middle" font-style="normal" fill="#4a4a4a">20</text>
<line x1="443.8" y1="267.8" x2="443.8" y2="272.5" stroke="#000" stroke-width="1.2"/>
<text transform="translate(442.1 266.5) scale(0.9709 1)" font-size="9.79" text-anchor="middle" font-style="normal" fill="#4a4a4a">40</text>
<line x1="479.7" y1="267.8" x2="479.7" y2="272.5" stroke="#000" stroke-width="1.2"/>
<text transform="translate(477.9 266.5) scale(0.9709 1)" font-size="9.79" text-anchor="middle" font-style="normal" fill="#4a4a4a">60</text>
<line x1="514.8" y1="267.8" x2="514.8" y2="272.5" stroke="#000" stroke-width="1.2"/>
<text transform="translate(513.2 266.5) scale(0.9709 1)" font-size="9.79" text-anchor="middle" font-style="normal" fill="#4a4a4a">80</text>
<line x1="372.7" y1="272.5" x2="372.7" y2="354.6" stroke="#000" stroke-width="1.3"/>
<rect x="368.9" y="276.9" width="6.5" height="6.93" fill="#fff" stroke="#000" stroke-width="1.1"/>
<line x1="375.4" y1="280.3" x2="377.6" y2="280.3" stroke="#000" stroke-width="0.9"/>
<line x1="377.6" y1="278.2" x2="377.6" y2="282.4" stroke="#000" stroke-width="1.1"/>
<rect x="368.9" y="283.83" width="6.5" height="6.93" fill="#fff" stroke="#000" stroke-width="1.1"/>
<line x1="375.4" y1="287.23" x2="377.6" y2="287.23" stroke="#000" stroke-width="0.9"/>
<line x1="377.6" y1="285.13" x2="377.6" y2="289.33" stroke="#000" stroke-width="1.1"/>
<rect x="368.9" y="290.76" width="6.5" height="6.93" fill="#fff" stroke="#000" stroke-width="1.1"/>
<line x1="375.4" y1="294.16" x2="377.6" y2="294.16" stroke="#000" stroke-width="0.9"/>
<line x1="377.6" y1="292.06" x2="377.6" y2="296.26" stroke="#000" stroke-width="1.1"/>
<line x1="372.7" y1="276.9" x2="372.7" y2="297.7" stroke="#000" stroke-width="1.2"/>
<rect x="372.7" y="303.6" width="35.9" height="7" fill="url(#lx)" stroke="#000" stroke-width="1.1"/>
<line x1="408.6" y1="307.1" x2="410.8" y2="307.1" stroke="#000" stroke-width="1"/>
<line x1="410.8" y1="304.8" x2="410.8" y2="309.4" stroke="#000" stroke-width="1.2"/>
<rect x="372.7" y="310.6" width="19.6" height="7" fill="url(#lx)" stroke="#000" stroke-width="1.1"/>
<line x1="392.3" y1="314.1" x2="397" y2="314.1" stroke="#000" stroke-width="1"/>
<line x1="397" y1="311.8" x2="397" y2="316.4" stroke="#000" stroke-width="1.2"/>
<rect x="372.7" y="317.6" width="8.3" height="7" fill="url(#lx)" stroke="#000" stroke-width="1.1"/>
<line x1="381" y1="321.1" x2="384.6" y2="321.1" stroke="#000" stroke-width="1"/>
<line x1="384.6" y1="318.8" x2="384.6" y2="323.4" stroke="#000" stroke-width="1.2"/>
<rect x="372.7" y="331.3" width="101.8" height="7.07" fill="#3c3c3c" stroke="#000" stroke-width="1.1"/>
<line x1="474.5" y1="334.84" x2="488.6" y2="334.84" stroke="#000" stroke-width="1"/>
<line x1="488.6" y1="332.54" x2="488.6" y2="337.14" stroke="#000" stroke-width="1.2"/>
<rect x="372.7" y="338.37" width="76.5" height="7.07" fill="#3c3c3c" stroke="#000" stroke-width="1.1"/>
<line x1="449.2" y1="341.91" x2="453" y2="341.91" stroke="#000" stroke-width="1"/>
<line x1="453" y1="339.61" x2="453" y2="344.21" stroke="#000" stroke-width="1.2"/>
<rect x="372.7" y="345.44" width="35.9" height="7.07" fill="#3c3c3c" stroke="#000" stroke-width="1.1"/>
<line x1="408.6" y1="348.98" x2="419" y2="348.98" stroke="#000" stroke-width="1"/>
<line x1="419" y1="346.68" x2="419" y2="351.28" stroke="#000" stroke-width="1.2"/>
<text transform="translate(341.4 284.5) scale(0.9709 1)" font-size="9.79" text-anchor="end" font-style="normal" fill="#4a4a4a">Alemtuzumab alone</text>
<text transform="translate(336.4 295.8) scale(0.9709 1)" font-size="9.79" text-anchor="end" font-style="normal" fill="#4a4a4a">(ALZ, &#956;g/mL)</text>
<text transform="translate(341.4 311.3) scale(0.9709 1)" font-size="9.79" text-anchor="end" font-style="normal" fill="#4a4a4a">PAg-activated &#947;&#948; alone</text>
<text transform="translate(342 323.3) scale(0.9709 1)" font-size="9.79" text-anchor="end" font-style="normal" fill="#4a4a4a">(E:T ratio)</text>
<text transform="translate(342 339.5) scale(0.9709 1)" font-size="9.79" text-anchor="end" font-style="normal" fill="#4a4a4a">PAg-activated &#947;&#948; (E:T ratio)</text>
<text transform="translate(341.4 351.3) scale(0.9709 1)" font-size="9.79" text-anchor="end" font-style="normal" fill="#4a4a4a">+ALZ (10&#956;g/mL)</text>
<line x1="348.6" y1="274.3" x2="348.6" y2="295.6" stroke="#000" stroke-width="1.2"/>
<line x1="348.4" y1="302.2" x2="348.4" y2="323.3" stroke="#000" stroke-width="1.2"/>
<line x1="348.4" y1="330" x2="348.4" y2="351.6" stroke="#000" stroke-width="1.2"/>
<text transform="translate(364.2 283) scale(0.8547 1)" font-size="10.88" text-anchor="end" font-style="normal" fill="#4a4a4a">100</text>
<text transform="translate(364.2 290.2) scale(0.8547 1)" font-size="10.88" text-anchor="end" font-style="normal" fill="#4a4a4a">50</text>
<text transform="translate(364.2 297.4) scale(0.8547 1)" font-size="10.88" text-anchor="end" font-style="normal" fill="#4a4a4a">10</text>
<text transform="translate(360.7 310.6) scale(0.8547 1)" font-size="10.88" text-anchor="end" font-style="normal" fill="#4a4a4a">30</text>
<text transform="translate(360.7 338) scale(0.8547 1)" font-size="10.88" text-anchor="end" font-style="normal" fill="#4a4a4a">30</text>
<text transform="translate(360.7 318.1) scale(0.8547 1)" font-size="10.88" text-anchor="end" font-style="normal" fill="#4a4a4a">10</text>
<text transform="translate(360.7 345.6) scale(0.8547 1)" font-size="10.88" text-anchor="end" font-style="normal" fill="#4a4a4a">10</text>
<text transform="translate(360.7 325.6) scale(0.8547 1)" font-size="10.88" text-anchor="end" font-style="normal" fill="#4a4a4a">1</text>
<text transform="translate(360.7 353.2) scale(0.8547 1)" font-size="10.88" text-anchor="end" font-style="normal" fill="#4a4a4a">1</text>
<line x1="495.1" y1="304.3" x2="495.1" y2="325.3" stroke="#000" stroke-width="1.25"/>
<line x1="495.1" y1="331.5" x2="495.1" y2="354.7" stroke="#000" stroke-width="1.25"/>
<path d="M495.1 314 H500.3 Q501.8 314 501.8 315.5 V340.3 Q501.8 341.8 500.3 341.8 H495.1" fill="none" stroke="#000" stroke-width="1.25"/>
<path d="M507.4 330L507.4 327.25M507.4 330L510.02 329.15M507.4 330L509.02 332.22M507.4 330L505.78 332.22M507.4 330L504.78 329.15" stroke="#000" stroke-width="1.4" stroke-linecap="round" fill="none"/>
<text x="225.5" y="460.8" font-size="13.2" text-anchor="start" font-weight="bold" font-style="normal" fill="#000">E</text>
<text transform="translate(355.3 458) scale(0.9709 1)" font-size="9.79" text-anchor="start" font-style="normal" fill="#4a4a4a">% specific lysis of HER2 targets</text>
<line x1="370.4" y1="475.6" x2="473.8" y2="475.6" stroke="#000" stroke-width="1.3"/>
<line x1="370.4" y1="471.8" x2="370.4" y2="475.6" stroke="#000" stroke-width="1.2"/>
<text transform="translate(370.5 472) scale(0.9709 1)" font-size="9.79" text-anchor="middle" font-style="normal" fill="#4a4a4a">0</text>
<line x1="418.8" y1="471.8" x2="418.8" y2="475.6" stroke="#000" stroke-width="1.2"/>
<text transform="translate(421 472) scale(0.9709 1)" font-size="9.79" text-anchor="middle" font-style="normal" fill="#4a4a4a">10</text>
<line x1="473.5" y1="471.8" x2="473.5" y2="475.6" stroke="#000" stroke-width="1.2"/>
<text transform="translate(473 472) scale(0.9709 1)" font-size="9.79" text-anchor="middle" font-style="normal" fill="#4a4a4a">20</text>
<line x1="370.4" y1="475.6" x2="370.4" y2="565.4" stroke="#000" stroke-width="1.3"/>
<rect x="368.3" y="481.9" width="4.8" height="18.2" fill="#111"/>
<rect x="371.9" y="484.1" width="1.2" height="1.8" fill="#fff"/>
<rect x="368.3" y="490.17" width="1.1" height="1.8" fill="#fff"/>
<rect x="371.9" y="490.17" width="1.2" height="1.8" fill="#fff"/>
<rect x="368.3" y="496.24" width="1.1" height="1.8" fill="#fff"/>
<rect x="371.9" y="496.24" width="1.2" height="1.8" fill="#fff"/>
<rect x="368.6" y="505.5" width="6.0" height="7.0" rx="1.6" fill="#333" stroke="#000" stroke-width="1.0"/>
<rect x="370.6" y="507" width="1.8" height="1.3" fill="#ddd"/>
<rect x="371.2" y="509.5" width="1.8" height="1.3" fill="#ddd"/>
<rect x="368.6" y="512.77" width="6.0" height="7.0" rx="1.6" fill="#333" stroke="#000" stroke-width="1.0"/>
<rect x="370.6" y="514.27" width="1.8" height="1.3" fill="#ddd"/>
<rect x="371.2" y="516.77" width="1.8" height="1.3" fill="#ddd"/>
<rect x="368.6" y="520.04" width="6.0" height="7.0" rx="1.6" fill="#333" stroke="#000" stroke-width="1.0"/>
<rect x="370.6" y="521.54" width="1.8" height="1.3" fill="#ddd"/>
<rect x="371.2" y="524.04" width="1.8" height="1.3" fill="#ddd"/>
<rect x="370.4" y="535.4" width="76.1" height="7.8" fill="#3c3c3c" stroke="#000" stroke-width="1.1"/>
<line x1="446.5" y1="539.3" x2="453.5" y2="539.3" stroke="#000" stroke-width="1"/>
<line x1="453.5" y1="536.8" x2="453.5" y2="541.8" stroke="#000" stroke-width="1.2"/>
<rect x="370.4" y="543.2" width="76.1" height="9" fill="#3c3c3c" stroke="#000" stroke-width="1.1"/>
<line x1="446.5" y1="547.7" x2="453.5" y2="547.7" stroke="#000" stroke-width="1"/>
<line x1="453.5" y1="545.2" x2="453.5" y2="550.2" stroke="#000" stroke-width="1.2"/>
<rect x="370.4" y="552.2" width="38.1" height="7.8" fill="#3c3c3c" stroke="#000" stroke-width="1.1"/>
<line x1="408.5" y1="556.1" x2="410.3" y2="556.1" stroke="#000" stroke-width="1"/>
<line x1="410.3" y1="553.6" x2="410.3" y2="558.6" stroke="#000" stroke-width="1.2"/>
<text transform="translate(341 488.4) scale(0.9709 1)" font-size="9.79" text-anchor="end" font-style="normal" fill="#4a4a4a">Trastuzumab alone</text>
<text transform="translate(338.3 499.2) scale(0.9709 1)" font-size="9.79" text-anchor="end" font-style="normal" fill="#4a4a4a">(TTZ, &#956;g/mL)</text>
<text transform="translate(341 516.5) scale(0.9709 1)" font-size="9.79" text-anchor="end" font-style="normal" fill="#4a4a4a">PAg-activated &#947;&#948; alone</text>
<text transform="translate(341.6 527) scale(0.9709 1)" font-size="9.79" text-anchor="end" font-style="normal" fill="#4a4a4a">(E:T ratio)</text>
<text transform="translate(341.6 545.4) scale(0.9709 1)" font-size="9.79" text-anchor="end" font-style="normal" fill="#4a4a4a">PAg-activated &#947;&#948; (E:T ratio)</text>
<text transform="translate(341.6 557.6) scale(0.9709 1)" font-size="9.79" text-anchor="end" font-style="normal" fill="#4a4a4a">+TTZ (10&#956;g/mL)</text>
<line x1="348.9" y1="479.8" x2="348.9" y2="565.7" stroke="#000" stroke-width="1.2"/>
<text transform="translate(364.4 487.1) scale(0.8929 1)" font-size="10.42" text-anchor="end" font-style="normal" fill="#4a4a4a">100</text>
<text transform="translate(364.4 496.6) scale(0.8929 1)" font-size="10.42" text-anchor="end" font-style="normal" fill="#4a4a4a">50</text>
<text transform="translate(364.7 506) scale(0.8929 1)" font-size="10.42" text-anchor="end" font-style="normal" fill="#4a4a4a">10</text>
<text transform="translate(360.4 515.1) scale(0.8929 1)" font-size="10.42" text-anchor="end" font-style="normal" fill="#4a4a4a">30</text>
<text transform="translate(360.4 524.6) scale(0.8929 1)" font-size="10.42" text-anchor="end" font-style="normal" fill="#4a4a4a">10</text>
<text transform="translate(360.4 534.1) scale(0.8929 1)" font-size="10.42" text-anchor="end" font-style="normal" fill="#4a4a4a">1</text>
<text transform="translate(360.4 544.9) scale(0.8929 1)" font-size="10.42" text-anchor="end" font-style="normal" fill="#4a4a4a">30</text>
<text transform="translate(360.4 554.5) scale(0.8929 1)" font-size="10.42" text-anchor="end" font-style="normal" fill="#4a4a4a">10</text>
<text transform="translate(360.4 563.8) scale(0.8929 1)" font-size="10.42" text-anchor="end" font-style="normal" fill="#4a4a4a">1</text>
<line x1="464.5" y1="504.5" x2="464.5" y2="528.8" stroke="#000" stroke-width="1.25"/>
<line x1="464.5" y1="536" x2="464.5" y2="562.1" stroke="#000" stroke-width="1.25"/>
<path d="M464.5 516.1 H469.9 Q471.4 516.1 471.4 517.6 V545.2 Q471.4 546.7 469.9 546.7 H464.5" fill="none" stroke="#000" stroke-width="1.25"/>
<path d="M476.5 532.6L476.5 529.85M476.5 532.6L479.12 531.75M476.5 532.6L478.12 534.82M476.5 532.6L474.88 534.82M476.5 532.6L473.88 531.75" stroke="#000" stroke-width="1.4" stroke-linecap="round" fill="none"/>
</svg>
</body></html>
